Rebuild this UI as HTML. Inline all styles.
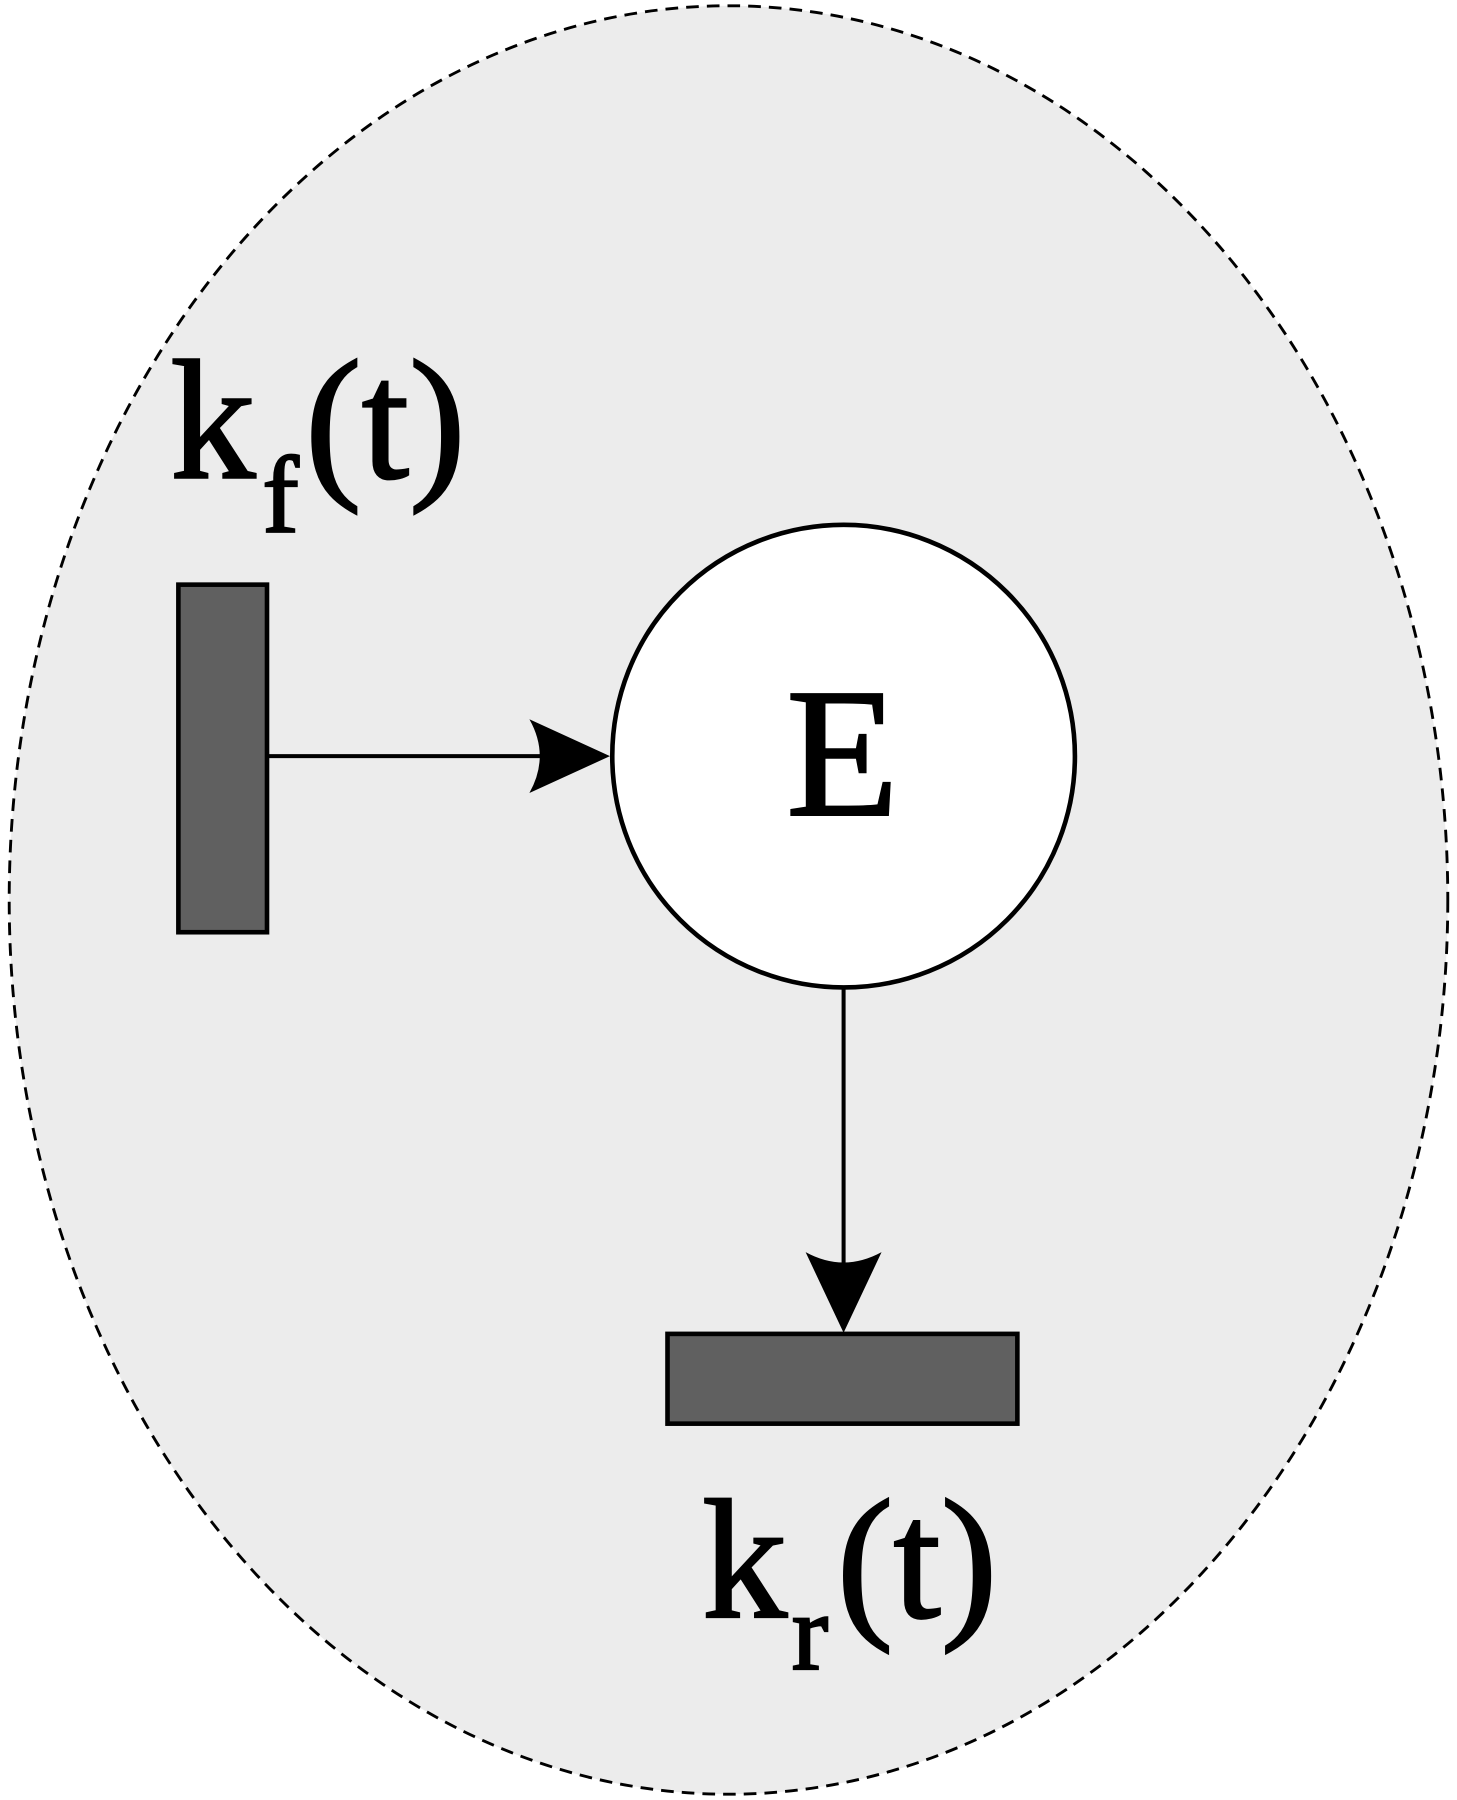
<!DOCTYPE html>
<html><head><meta charset="utf-8"><style>html,body{margin:0;padding:0;background:#fff}svg{display:block}</style></head>
<body>
<svg width="1457" height="1800" viewBox="0 0 1266 1564" preserveAspectRatio="none" xmlns="http://www.w3.org/2000/svg">
<ellipse cx="633" cy="782" rx="625" ry="777" fill="#ececec" stroke="#000" stroke-width="2.5" stroke-dasharray="11,7"/>
<rect x="155" y="508" width="77" height="302" fill="#606060" stroke="#000" stroke-width="4"/>
<rect x="580" y="1159" width="304" height="78" fill="#606060" stroke="#000" stroke-width="4"/>
<circle cx="733" cy="657" r="201" fill="#fff" stroke="#000" stroke-width="4"/>
<line x1="232" y1="657" x2="470" y2="657" stroke="#000" stroke-width="3.5"/>
<path d="M530 657 L460 625 Q478 657 460 689 Z" fill="#000"/>
<line x1="733" y1="858" x2="733" y2="1100" stroke="#000" stroke-width="3.5"/>
<path d="M733 1158 L700 1088 Q733 1106 766 1088 Z" fill="#000"/>
<g font-family="'Liberation Serif',serif" fill="#000" stroke="#000" stroke-width="2">
<text x="732" y="708" font-size="160" text-anchor="middle">E</text>
<text x="148" y="415" font-size="148">k</text>
<text x="228" y="462" font-size="95">f</text>
<text x="265" y="415" font-size="148">(t)</text>
<text x="610" y="1405" font-size="148">k</text>
<text x="688" y="1450" font-size="95">r</text>
<text x="727" y="1405" font-size="148">(t)</text>
</g>
</svg>
</body></html>
